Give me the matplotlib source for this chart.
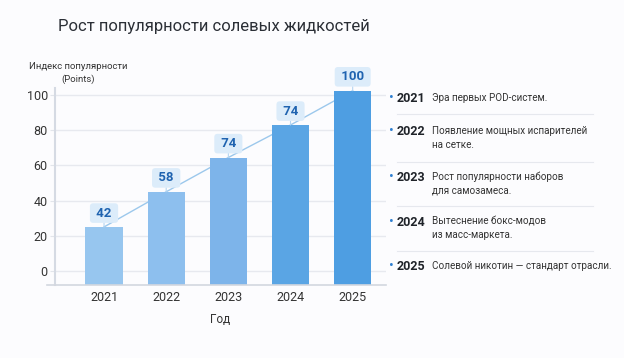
import matplotlib
matplotlib.use('Agg')
import matplotlib.pyplot as plt

plt.rcParams['font.family'] = ['Roboto', 'DejaVu Sans']

years = ['2021', '2022', '2023', '2024', '2025']
bar_heights = [25, 45, 64.5, 83, 102.5]   # bar heights as drawn on the axis
value_labels = ['42', '58', '74', '74', '100']
bar_colors = ['#97c6ef', '#8dbfee', '#7db4ea', '#5aa5e4', '#4e9ee2']
notes = [
    'Эра первых POD-систем.',
    'Появление мощных испарителей\nна сетке.',
    'Рост популярности наборов\nдля самозамеса.',
    'Вытеснение бокс-модов\nиз масс-маркета.',
    'Солевой никотин — стандарт отрасли.',
]

bg = '#fcfcfe'
fig = plt.figure(figsize=(6.24, 3.58), dpi=100, facecolor=bg)
ax = fig.add_axes([0.088, 0.204, 0.53, 0.55], facecolor=bg)

x = list(range(len(years)))
ybottom = -8
ax.plot(x, bar_heights, color='#9cc8ec', lw=1, zorder=1)
ax.bar(x, [h - ybottom for h in bar_heights], bottom=ybottom, width=0.6,
       color=bar_colors, zorder=2)

for xi, h, lab in zip(x, bar_heights, value_labels):
    ax.annotate(' ' + lab + ' ', xy=(xi, h), xytext=(0, 10), textcoords='offset points',
                ha='center', va='center', fontsize=9.5, fontweight='bold',
                color='#1f63b0', zorder=4, annotation_clip=False,
                bbox=dict(boxstyle='round,pad=0.25,rounding_size=0.25',
                          fc='#dcecfa', ec='none'),
                arrowprops=dict(arrowstyle='-', color='#b5d6f2', lw=0.8,
                                shrinkA=0, shrinkB=0))

ax.set_xlim(-0.79, 4.53)
ax.set_ylim(ybottom, 104)
ax.set_yticks([0, 20, 40, 60, 80, 100])
ax.set_xticks(x)
ax.set_xticklabels(years)
ax.grid(axis='y', color='#e7e9ef', lw=1, zorder=0)
ax.set_axisbelow(True)
ax.tick_params(axis='y', length=3.6, color='#e2e5eb', labelsize=9,
               labelcolor='#333333', pad=1.5)
ax.tick_params(axis='x', length=0, labelsize=9, labelcolor='#333333', pad=4.5)
for s in ['top', 'right', 'bottom']:
    ax.spines[s].set_visible(False)
ax.spines['left'].set_color('#d5dae3')
ax.spines['left'].set_linewidth(1.5)
ax.plot([-0.025, 1], [0, 0], transform=ax.transAxes, color='#d3d7df',
        lw=1.2, clip_on=False, zorder=3)

ax.set_xlabel('Год', fontsize=8.5, color='#333333', labelpad=6)
fig.text(0.126, 0.796, 'Индекс популярности\n(Points)', ha='center',
         va='center', fontsize=6.8, color='#333333', linespacing=1.5)

fig.text(0.093, 0.925, 'Рост популярности солевых жидкостей', fontsize=12,
         color='#2b2f36', va='center', ha='left')

# notes on the right
row_y = [98, 137.5, 183.5, 228.5, 266]
sep_y = [114, 162, 206, 251]
for yy, year, note in zip(row_y, years, notes):
    fy = 1 - yy / 358
    first_y = fy + (0.018 if '\n' in note else 0)
    fig.text(391 / 624, first_y, '•', fontsize=10, color='#2f7fd0',
             ha='center', va='center')
    fig.text(397 / 624, first_y, year, fontsize=9, fontweight='bold',
             color='#1f2329', ha='left', va='center')
    fig.text(432 / 624, fy, note, fontsize=7.1, color='#333333',
             ha='left', va='center', linespacing=1.5)
for yy in sep_y:
    fy = 1 - yy / 358
    fig.add_artist(plt.Line2D([397 / 624, 593 / 624], [fy, fy],
                              color='#e6e8ee', lw=0.8))

fig.savefig('out.png', dpi=100, facecolor=bg)
